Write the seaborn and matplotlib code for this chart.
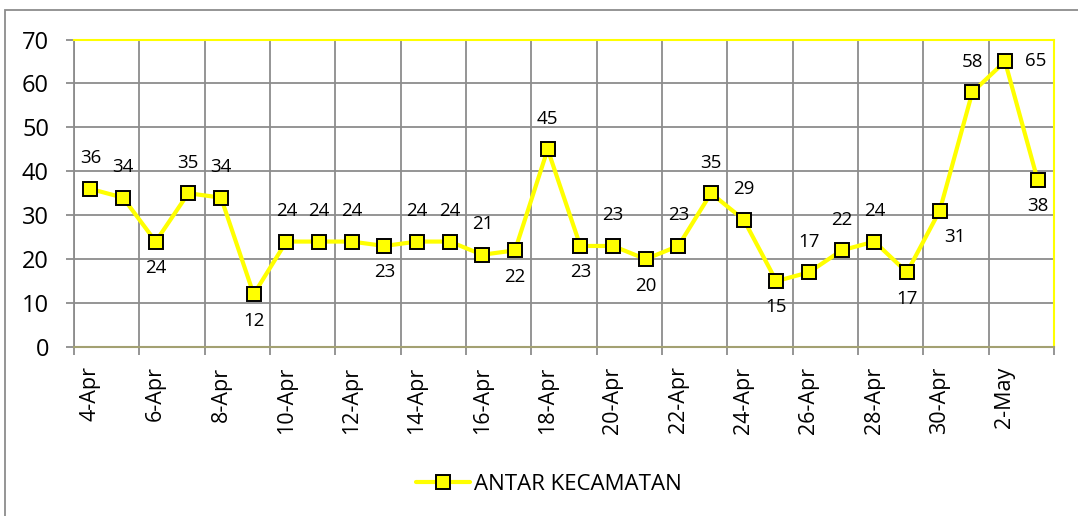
import matplotlib.pyplot as plt
import matplotlib.patches as mpatches
import pandas as pd
import seaborn as sns

days = [
    "4-Apr", "5-Apr", "6-Apr", "7-Apr", "8-Apr", "9-Apr", "10-Apr", "11-Apr",
    "12-Apr", "13-Apr", "14-Apr", "15-Apr", "16-Apr", "17-Apr", "18-Apr",
    "19-Apr", "20-Apr", "21-Apr", "22-Apr", "23-Apr", "24-Apr", "25-Apr",
    "26-Apr", "27-Apr", "28-Apr", "29-Apr", "30-Apr", "1-May", "2-May", "3-May",
]
antar_kecamatan = [
    36, 34, 24, 35, 34, 12, 24, 24, 24, 23,
    24, 24, 21, 22, 45, 23, 23, 20, 23, 35,
    29, 15, 17, 22, 24, 17, 31, 58, 65, 38,
]
series_name = "ANTAR KECAMATAN"

# where each data label sits relative to its point (a=above, b=below, r=right)
label_side = [
    "a", "a", "b", "a", "a", "b", "a", "a", "a", "b",
    "a", "a", "a", "b", "a", "b", "a", "b", "a", "a",
    "a", "b", "a", "a", "a", "b", "br", "a", "r", "b",
]
offsets = {"a": (0, 22), "b": (0, -19), "r": (22, 0), "br": (11, -19)}

sns.set_theme(style="white")
plt.rcParams["font.family"] = ["Open Sans", "DejaVu Sans"]
plt.rcParams["text.color"] = "black"
plt.rcParams["xtick.color"] = "black"
plt.rcParams["ytick.color"] = "black"

df = pd.DataFrame({"day": days, "value": antar_kecamatan})

fig = plt.figure(figsize=(10.78, 5.16), dpi=100)
ax = fig.add_axes([74 / 1078, 1 - 347 / 516, 980 / 1078, 307.5 / 516])

sns.lineplot(
    data=df, x="day", y="value", sort=False, ax=ax,
    color="#ffff00", linewidth=3, marker="s", markersize=10,
    markerfacecolor="#ffff00", markeredgecolor="black", markeredgewidth=1.4,
    label=series_name, legend=False,
)

for i, (v, side) in enumerate(zip(antar_kecamatan, label_side)):
    ax.annotate(str(v), (i, v), xytext=offsets[side], textcoords="offset points",
                ha="center", va="center", fontsize=13.5, color="black")

n = len(days)
ax.set_xlim(-0.5, n - 0.5)
ax.set_ylim(0, 70)
ax.set_yticks(range(0, 71, 10))
ax.set_xticks(range(0, n, 2))
ax.set_xticklabels(days[::2], rotation=90, fontsize=15.5)
ax.set_xticks([x - 0.5 for x in range(0, n + 1, 2)], minor=True)
ax.tick_params(axis="x", which="major", length=0, pad=14, labelcolor="black")
ax.tick_params(axis="x", which="minor", length=6, width=1.3, color="#8c8c8c",
               direction="out", bottom=True)
ax.tick_params(axis="y", length=6, width=1.3, color="#8c8c8c", direction="out",
               left=True, labelsize=17, pad=12, labelcolor="black")
ax.set_xlabel("")
ax.set_ylabel("")

ax.grid(True, axis="y", color="#8c8c8c", linewidth=1.3)
ax.grid(True, axis="x", which="minor", color="#8c8c8c", linewidth=1.3)
ax.grid(False, axis="x", which="major")
ax.set_axisbelow(True)

ax.spines["left"].set_color("#8c8c8c")
ax.spines["left"].set_linewidth(1.3)
ax.spines["bottom"].set_color("#a3a172")
ax.spines["bottom"].set_linewidth(1.5)
ax.spines["top"].set_color("#ffff00")
ax.spines["top"].set_linewidth(1.5)
ax.spines["right"].set_color("#ffff00")
ax.spines["right"].set_linewidth(1.5)

handles, labels = ax.get_legend_handles_labels()
fig.legend(handles, labels, loc="center", bbox_to_anchor=(549 / 1078, 1 - 484 / 516),
           frameon=False, fontsize=16, handlelength=2.4, handletextpad=0.2)

# outer chart frame
fig.patches.append(mpatches.Rectangle(
    (5 / 1078, -0.1), 1.2, 1 - 10 / 516 + 0.1, transform=fig.transFigure,
    fill=False, edgecolor="#8c8c8c", linewidth=1.3))

fig.savefig("out.png", dpi=100)
